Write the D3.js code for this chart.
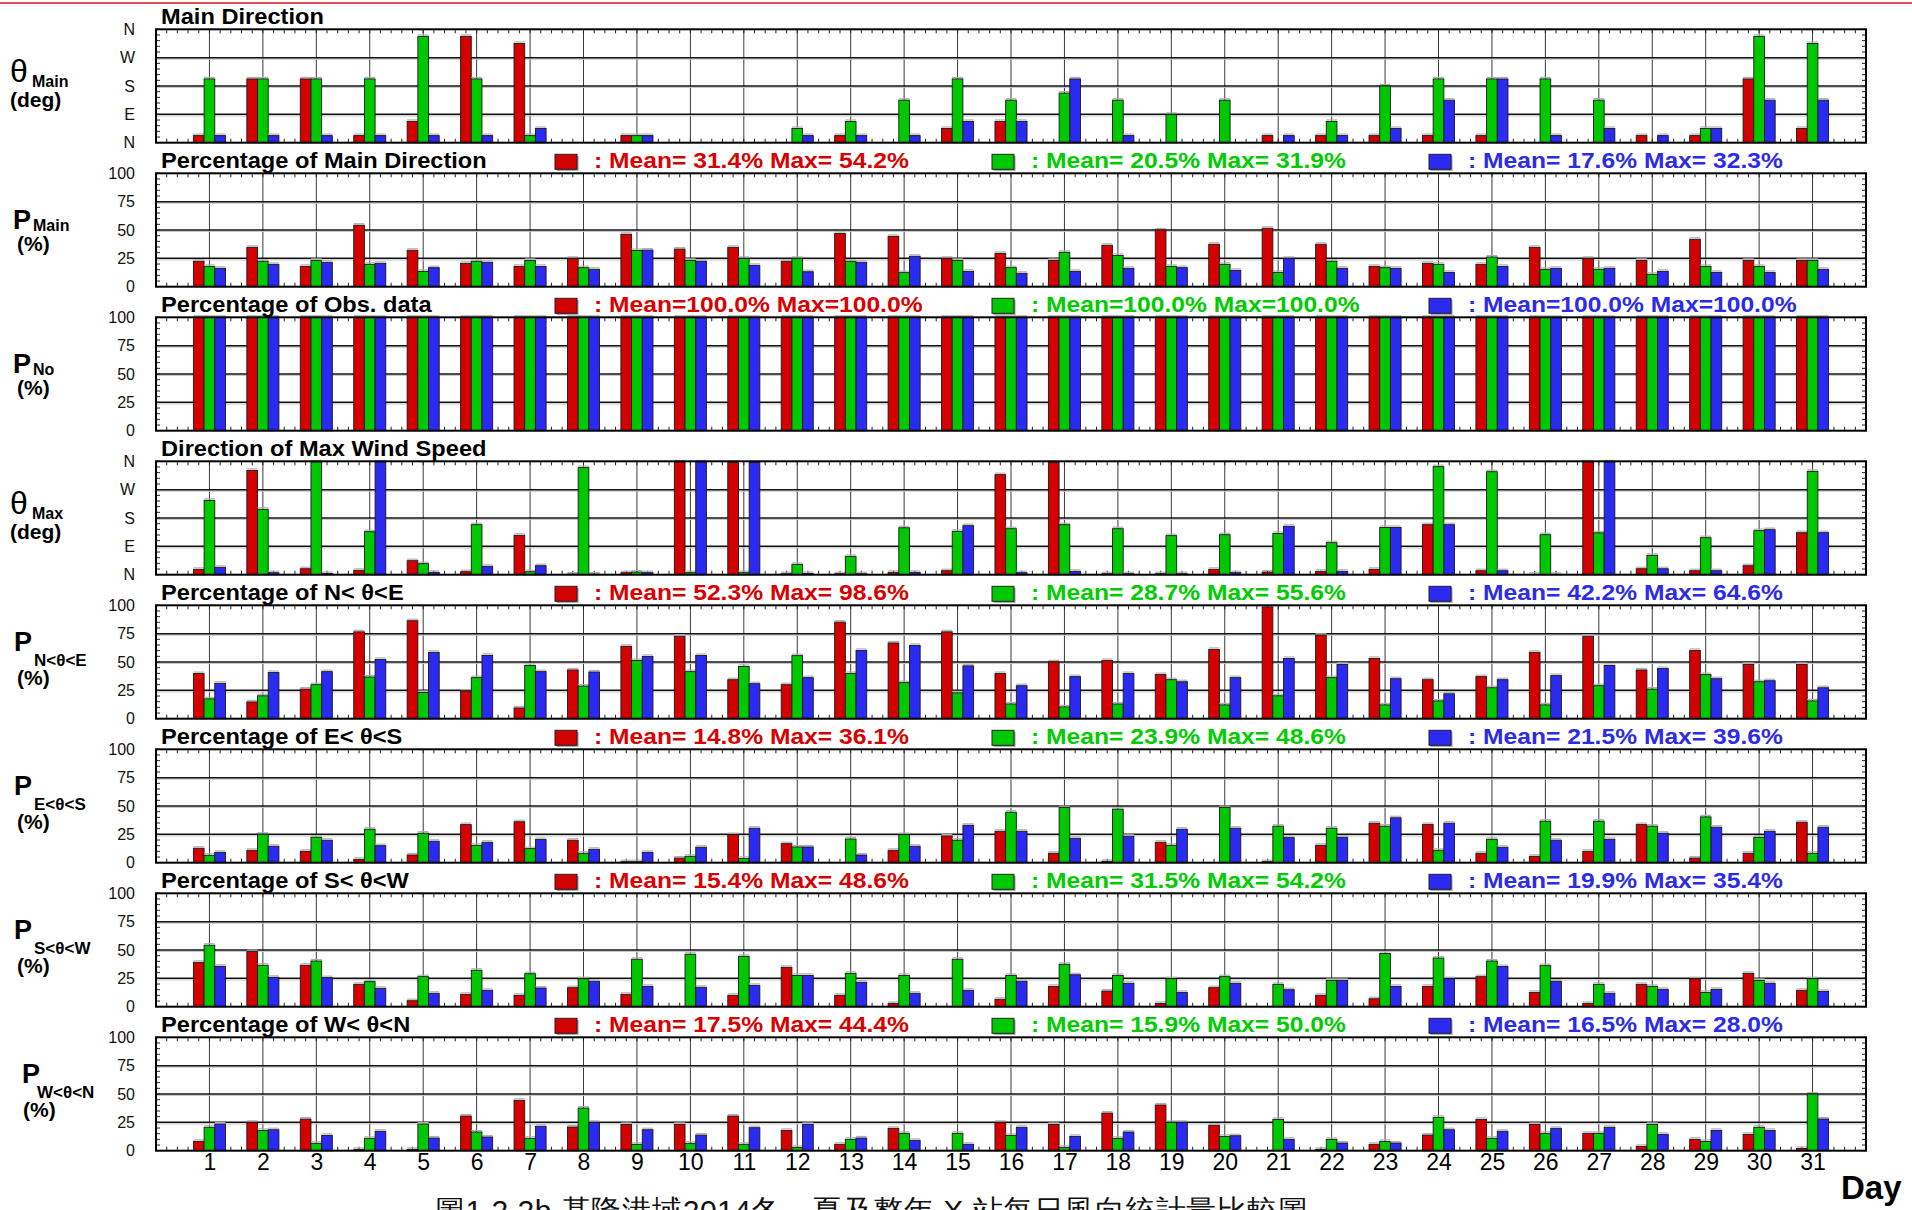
<!DOCTYPE html>
<html><head><meta charset="utf-8">
<script src="https://cdn.jsdelivr.net/npm/d3@7/dist/d3.min.js"></script>
<style>
html,body{margin:0;padding:0;background:#fff;overflow:hidden}
svg{display:block}
text{font-family:"Liberation Sans",Arial,sans-serif}
</style></head><body>
<svg id="chart" width="1912" height="1210"></svg>
<script>
// ---------------- data ----------------
const days = d3.range(1, 32);
const dirTickValues = [0, 90, 180, 270, 360];
const dirTickLabels = ["N", "E", "S", "W", "N"];
const pctTickValues = [0, 25, 50, 75, 100];
const pctTickLabels = ["0", "25", "50", "75", "100"];

const panelTitles = ["Main Direction", "Percentage of Main Direction", "Percentage of Obs. data",
  "Direction of Max Wind Speed", "Percentage of N< \u03b8<E", "Percentage of E< \u03b8<S",
  "Percentage of S< \u03b8<W", "Percentage of W< \u03b8<N"];
const axisSymbols = ["\u03b8", "P", "P", "\u03b8", "P", "P", "P", "P"];
const axisSubs = ["Main", "Main", "No", "Max", "N<\u03b8<E", "E<\u03b8<S", "S<\u03b8<W", "W<\u03b8<N"];
const axisUnits = ["(deg)", "(%)", "(%)", "(deg)", "(%)", "(%)", "(%)", "(%)"];

const thetaMainRed   = [22.5,202.5,202.5,22.5,67.5,337.5,315,0,22.5,0,0,0,22.5,0,45,67.5,0,0,0,0,22.5,22.5,22.5,22.5,22.5,0,0,22.5,22.5,202.5,45];
const thetaMainGreen = [202.5,202.5,202.5,202.5,337.5,202.5,22.5,0,22.5,0,0,45,67.5,135,202.5,135,157.5,135,90,135,0,67.5,180,202.5,202.5,202.5,135,0,45,337.5,315];
const thetaMainBlue  = [22.5,22.5,22.5,22.5,22.5,22.5,45,0,22.5,0,0,22.5,22.5,22.5,67.5,67.5,202.5,22.5,0,0,22.5,22.5,45,135,202.5,22.5,45,22.5,45,135,135];

const pMainRed   = [22.4,34.7,17.9,54.2,32.1,20.6,17.9,25,46.2,33.2,34.7,22.4,47,44.4,25,29.4,23.2,36.5,50,37.4,51.5,37.4,17.9,20.6,19.7,34.7,25,23.2,41.8,23.2,23.2];
const pMainGreen = [17.9,22.4,23.2,19.7,13.5,22.4,23.2,16.8,31.9,23.2,25,25,22.4,12.4,23.2,16.8,30.3,27.6,17.9,19.7,12.6,22.4,16.8,19.7,26.2,15.3,15.3,10.9,17.9,17.9,23.2];
const pMainBlue  = [16.2,19.7,21.5,20.6,16.8,21.5,17.9,15.3,32.3,22.4,18.8,13.2,21.5,26.8,13.5,11.8,13.5,16.2,16.8,14.4,25,16.2,16.2,12.6,17.9,16.2,16.2,13.5,12.6,12.6,15.3];

const pNoRed   = [100,100,100,100,100,100,100,100,100,100,100,100,100,100,100,100,100,100,100,100,100,100,100,100,100,100,100,100,100,100,100];
const pNoGreen = [100,100,100,100,100,100,100,100,100,100,100,100,100,100,100,100,100,100,100,100,100,100,100,100,100,100,100,100,100,100,100];
const pNoBlue  = [100,100,100,100,100,100,100,100,100,100,100,100,100,100,100,100,100,100,100,100,100,100,100,100,100,100,100,100,100,100,100];

const thetaMaxRed   = [16.9,331,19,13.8,44.5,9.5,125,2,6.4,358,356,3,3,7.4,12.7,317.6,356,3,3,17,8.5,10.6,17,158.8,12.7,1,358,19,12.7,28.6,133.4];
const thetaMaxGreen = [236,207.5,358,136.6,35,158.8,9.5,340,8.5,6.4,6.4,32.8,58,149,137.6,146,158.8,146,124,127,131,101.6,150,343,327,127,133,61.4,117.5,139.8,328];
const thetaMaxBlue  = [23.3,6.4,4,358,7.4,26.5,28.6,2,6.4,358,356,4,3,7.4,155.6,6.4,10.6,3,3,6.4,153.5,10.6,150,158.8,12.7,1,358,19,12.7,143,133.4];

const pNERed   = [39.8,14.8,26.1,76.6,86.4,24.3,9.5,43,63.8,72.7,34.4,30,85.2,66.8,76.6,39.8,50.1,51.3,38.9,61.1,98.6,73.6,53.1,34.4,37.1,58.5,72.7,43,60.2,47.8,47.8];
const pNEGreen = [17.5,20.2,30,36.8,23.1,36.2,46.9,28.8,51.3,41.5,46,55.6,39.8,31.8,22.8,13,10.4,13,34.4,12.2,20.2,36.2,12.2,15.7,27.3,12.2,29.1,26.1,38.9,32.6,15.7];
const pNEBlue  = [31.2,40.7,41.5,52.2,58.5,55.8,41.5,41.2,54.9,55.8,30.9,36.2,60.2,64.6,46.6,29.1,37.1,39.8,32.6,36.2,53.1,47.8,35.3,22,34.4,38,46.9,44.2,35.3,33.5,27.3];

const pESRed   = [12.7,10.9,10,2.9,6.8,33.6,36.1,19.8,0.9,4.1,24.8,16.8,0,10.9,23.6,27.7,8.3,1.2,18,0,0.9,15.3,34.8,33.6,8.3,5.6,10,33.6,4.1,8.3,35.7];
const pESGreen = [6.5,25.1,22.4,29.5,26,15.3,12.4,8.3,0.9,5.6,3.8,13.9,20.9,24.8,19.8,44.5,48.6,47.2,15.3,48.6,32.2,30.4,32.2,10.9,20.6,36.6,36.6,32.2,40.4,22.4,8.3];
const pESBlue  = [9.1,14.5,19.8,15,18.9,18,20.4,11.8,9.1,13.6,30.4,13.9,6.8,14.5,33,27.7,21.5,23.3,29.5,30.4,22.1,22.4,39.6,34.8,13.6,19.8,20.6,26,31.3,27.7,31.3];

const pSWRed   = [39.1,48.6,36.5,19.7,5.3,10.9,10,16.8,10.9,0,10,34.7,10,2.9,0,6.5,17.9,13.8,2.9,16.8,0,10,7,17.9,26.5,12.6,2.9,19.7,24.7,29.4,14.4];
const pSWGreen = [54.2,36.5,40.3,22.1,26.5,32.1,29.1,24.7,41.8,46.2,44.4,27.6,29.4,27.6,41.8,27.6,37.4,27.6,24.7,26.5,19.7,23.2,47,42.9,40.3,36.2,19.7,17.9,12.6,23.2,24.7];
const pSWBlue  = [35.6,25.9,25.6,16.2,11.8,14.4,16.5,22.4,17.9,17.1,18.8,27.6,21.5,11.8,14.4,22.4,28.2,20.6,12.6,20.6,15,23.2,17.9,24.7,35.4,22.4,11.8,15.3,15.3,20.6,13.5];

const pWNRed   = [8.2,25,27.9,1.2,1.2,30.6,44.4,20.9,23.2,23.2,30.6,17.9,5.6,19.7,0,25,23.2,33.2,40.3,22.4,0,1.2,5.6,13.8,27.6,23.2,15.3,3.8,10,14.4,2];
const pWNGreen = [20.6,17.9,6.5,10.9,23.5,16.5,10.9,37.6,5.6,6.5,5.6,2.9,10,15.3,15.3,13.5,2.9,10.9,25,12.6,27.6,10,8.2,29.4,10.9,15.3,15.3,23.2,8.2,20.6,50];
const pWNBlue  = [23.5,18.5,13.5,17.1,11.2,12.1,21.5,25,18.5,13.8,20.3,23.2,11.2,9.1,5.6,20.6,12.6,16.5,25,13.2,10,6.8,6.8,18.5,17.1,19.7,20.6,14.4,17.9,17.9,28];

// legend statistics [red, green, blue] per panel (null = no legend)
const legendMeans = [null, [31.4,20.5,17.6], [100,100,100], null, [52.3,28.7,42.2], [14.8,23.9,21.5], [15.4,31.5,19.9], [17.5,15.9,16.5]];
const legendMaxes = [null, [54.2,31.9,32.3], [100,100,100], null, [98.6,55.6,64.6], [36.1,48.6,39.6], [48.6,54.2,35.4], [44.4,50.0,28.0]];

const captionText = "\u57161.2.2b \u57fa\u9686\u6e2f\u57df2014\u51ac\u3001\u590f\u53ca\u6574\u5e74 X \u7ad9\u6bcf\u65e5\u98a8\u5411\u7d71\u8a08\u91cf\u6bd4\u8f03\u5716";

// ---------------- layout / style ----------------
const seriesFill = ["#d40000", "#00c800", "#2a2af0"];
const legendTextColor = ["#d80000", "#00cc00", "#2b2be8"];
const panelSeries = [
  [thetaMainRed, thetaMainGreen, thetaMainBlue],
  [pMainRed, pMainGreen, pMainBlue],
  [pNoRed, pNoGreen, pNoBlue],
  [thetaMaxRed, thetaMaxGreen, thetaMaxBlue],
  [pNERed, pNEGreen, pNEBlue],
  [pESRed, pESGreen, pESBlue],
  [pSWRed, pSWGreen, pSWBlue],
  [pWNRed, pWNGreen, pWNBlue]
];
const isDir = [true, false, false, true, false, false, false, false];

const svg = d3.select("#chart");
const X0 = 156, X1 = 1866;
const panelTop0 = 29.3, panelStep = 144, panelH = 113.4;
const x = d3.scaleLinear().domain([0, 32]).range([X0, X1]);
const bw = x(0.2) - x(0);

// top red rule
svg.append("line").attr("x1", 0).attr("x2", 1912).attr("y1", 3).attr("y2", 3)
  .attr("stroke", "#e01010").attr("stroke-width", 1.6);

panelSeries.forEach((series, p) => {
  const top = panelTop0 + panelStep * p;
  const bot = top + panelH;
  const maxV = isDir[p] ? 360 : 100;
  const y = d3.scaleLinear().domain([0, maxV]).range([bot, top]);
  const g = svg.append("g");
  const tv = isDir[p] ? dirTickValues : pctTickValues;
  const tl = isDir[p] ? dirTickLabels : pctTickLabels;

  // vertical day grid
  g.selectAll("line.vg").data(days).join("line")
    .attr("x1", d => x(d)).attr("x2", d => x(d)).attr("y1", top).attr("y2", bot)
    .attr("stroke", "#3a3a3a").attr("stroke-width", 1);
  // horizontal grid (shadow + line)
  const inner = tv.slice(1, -1);
  g.selectAll("line.hs").data(inner).join("line")
    .attr("x1", X0).attr("x2", X1).attr("y1", d => y(d) + 1.5).attr("y2", d => y(d) + 1.5)
    .attr("stroke", "#c8c8c8").attr("stroke-width", 1.2);
  g.selectAll("line.hg").data(inner).join("line")
    .attr("x1", X0).attr("x2", X1).attr("y1", d => y(d)).attr("y2", d => y(d))
    .attr("stroke", "#111").attr("stroke-width", 1.5);

  // minor ticks left/right
  const minorY = d3.range(0, 21).map(i => i * maxV / 20);
  g.selectAll("line.ml").data(minorY).join("line")
    .attr("x1", X0).attr("x2", X0 + 4).attr("y1", d => y(d)).attr("y2", d => y(d))
    .attr("stroke", "#222").attr("stroke-width", 1);
  g.selectAll("line.mr").data(minorY).join("line")
    .attr("x1", X1 - 4).attr("x2", X1).attr("y1", d => y(d)).attr("y2", d => y(d))
    .attr("stroke", "#222").attr("stroke-width", 1);
  // minor ticks top/bottom
  const minorX = d3.range(1, 160).map(i => i * 0.2);
  g.selectAll("line.mt").data(minorX).join("line")
    .attr("x1", d => x(d)).attr("x2", d => x(d)).attr("y1", top).attr("y2", top + 4)
    .attr("stroke", "#222").attr("stroke-width", 1);
  g.selectAll("line.mb").data(minorX).join("line")
    .attr("x1", d => x(d)).attr("x2", d => x(d)).attr("y1", bot - 4).attr("y2", bot)
    .attr("stroke", "#222").attr("stroke-width", 1);

  // bars
  series.forEach((vals, s) => {
    const bars = vals.map((v, i) => ({ day: days[i], v })).filter(d => d.v > 0);
    g.selectAll(null).data(bars).join("line")
      .attr("x1", d => x(d.day) + (s - 1.5) * bw).attr("x2", d => x(d.day) + (s - 0.5) * bw)
      .attr("y1", d => y(d.v) - 1.5).attr("y2", d => y(d.v) - 1.5)
      .attr("stroke", "#b0b0b0").attr("stroke-width", 1.2);
    g.selectAll(null).data(bars).join("rect")
      .attr("x", d => x(d.day) + (s - 1.5) * bw)
      .attr("y", d => y(d.v))
      .attr("width", bw)
      .attr("height", d => y(0) - y(d.v))
      .attr("fill", seriesFill[s])
      .attr("stroke", "#1a1a1a").attr("stroke-width", 0.9);
  });

  // frame
  g.append("rect").attr("x", X0).attr("y", top).attr("width", X1 - X0).attr("height", panelH)
    .attr("fill", "none").attr("stroke", "#000").attr("stroke-width", 2);

  // y tick labels
  const ax = d3.axisLeft(y).tickValues(tv).tickFormat((d, i) => tl[i]).tickSize(0).tickPadding(21);
  const axG = g.append("g").attr("transform", `translate(${X0},0)`).call(ax);
  axG.select(".domain").remove();
  axG.selectAll("text").attr("font-size", 16).attr("fill", "#111")
    .attr("font-family", '"Liberation Sans",Arial,sans-serif');

  // panel title
  svg.append("text").attr("transform", `translate(161,${top - 5}) scale(1.075,1)`)
    .attr("font-size", 22).attr("font-weight", "bold").attr("fill", "#000")
    .text(panelTitles[p]);

  // legend
  if (legendMeans[p]) {
    const f = d3.format(">5.1f");
    [555, 992, 1429].forEach((lx, s) => {
      svg.append("rect").attr("x", lx + 1.5).attr("y", top - 19 + 1.5).attr("width", 22).attr("height", 15)
        .attr("fill", "#999");
      svg.append("rect").attr("x", lx).attr("y", top - 19).attr("width", 22).attr("height", 15)
        .attr("fill", seriesFill[s]).attr("stroke", "#222").attr("stroke-width", 1);
      svg.append("text").attr("transform", `translate(${lx + 39},${top - 5}) scale(1.12,1)`)
        .attr("font-size", 22).attr("font-weight", "bold").attr("fill", legendTextColor[s])
        .attr("xml:space", "preserve")
        .text(`: Mean=${f(legendMeans[p][s])}% Max=${f(legendMaxes[p][s])}%`);
    });
  }

  // left axis title
  const lower = p >= 4;
  const isTheta = axisSymbols[p] === "\u03b8";
  const symX = lower ? (p === 7 ? 22 : 14) : (isTheta ? 10 : 13);
  const symY = lower ? top + 46 : (isTheta ? top + 53 : top + 56);
  svg.append("text").attr("x", symX).attr("y", symY)
    .attr("font-size", isTheta ? 32 : 27).attr("font-weight", isTheta ? "normal" : "bold")
    .attr("font-family", isTheta ? '"Liberation Serif","Times New Roman",serif' : '"Liberation Sans",Arial,sans-serif')
    .attr("fill", "#000").text(axisSymbols[p]);
  svg.append("text").attr("x", lower ? (p === 7 ? 37 : 34) : (isTheta ? 32 : 33))
    .attr("y", lower ? top + 61 : top + 58)
    .attr("font-size", lower ? 17 : 16).attr("font-weight", "bold").attr("fill", "#000")
    .text(axisSubs[p]);
  svg.append("text").attr("x", lower ? (p === 7 ? 23 : 17) : (isTheta ? 10 : 17))
    .attr("y", lower ? top + 80 : top + 78)
    .attr("font-size", 21).attr("font-weight", "bold").attr("fill", "#000")
    .text(axisUnits[p]);

  // day labels at the bottom
  if (p === panelSeries.length - 1) {
    const bx = d3.axisBottom(x).tickValues(days).tickSize(0).tickPadding(3);
    const bG = g.append("g").attr("transform", `translate(0,${bot})`).call(bx);
    bG.select(".domain").remove();
    bG.selectAll("text").attr("font-size", 23).attr("fill", "#000")
      .attr("font-family", '"Liberation Sans",Arial,sans-serif');
  }
});

svg.append("text").attr("x", 1841).attr("y", 1199).attr("font-size", 33).attr("font-weight", "bold")
  .attr("fill", "#000").text("Day");

svg.append("text").attr("x", 435).attr("y", 1221).attr("font-size", 30).attr("letter-spacing", 0.5)
  .attr("font-family", '"Noto Sans CJK TC","Noto Sans CJK SC",sans-serif')
  .attr("fill", "#111").text(captionText);
</script>
</body></html>
